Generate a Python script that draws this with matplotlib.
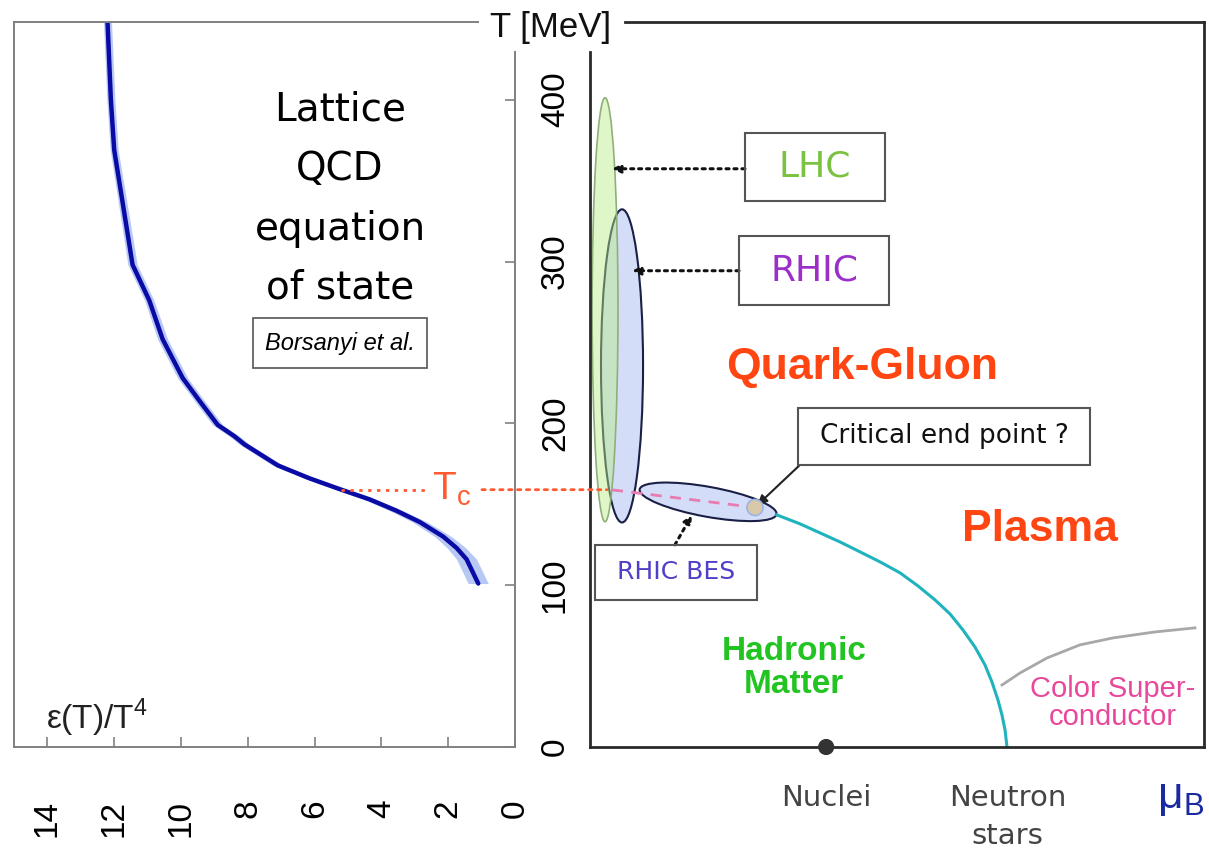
import matplotlib.pyplot as plt
from matplotlib.patches import Ellipse, Rectangle, Circle, ConnectionPatch

plt.rcParams['font.family'] = ['Liberation Sans', 'DejaVu Sans']
COMIC = 'DejaVu Sans'

# lattice QCD equation of state (eps/T^4 vs T in MeV)
eps_T4 = [12.2, 12.1, 12.0, 11.45, 10.95, 10.55, 9.95, 9.45, 8.9, 8.4, 8.1,
          7.1, 6.15, 5.2, 4.35, 3.55, 2.85, 2.15, 1.75, 1.45, 1.1]
eps_err = [0.12, 0.12, 0.12, 0.14, 0.14, 0.15, 0.15, 0.15, 0.15, 0.15, 0.15,
           0.15, 0.15, 0.16, 0.18, 0.2, 0.22, 0.25, 0.28, 0.3, 0.3]
T_lat = [448, 400, 369, 298, 276, 252, 228, 214, 199, 192, 187,
         174, 166, 159, 153, 146, 139, 130, 123, 116, 101]

eps_ticks = [14, 12, 10, 8, 6, 4, 2, 0]
T_ticks = [0, 100, 200, 300, 400]
T_c = 159

# phase diagram, mu_B in arbitrary units (same scale as T)
cross_mu = [115.6, 129.8, 142.2, 154.6, 166.9, 179.3, 191.7, 202.8, 213.3,
            222.6, 230.6, 238.0, 244.2, 248.5, 252.2, 254.7, 256.6, 257.8]
cross_T = [143.4, 137.9, 132.3, 126.7, 120.6, 114.4, 107.6, 99.5, 90.9,
           82.2, 72.3, 61.8, 50.7, 40.2, 29.1, 19.8, 10.5, 0.0]
csc_mu = [254.7, 265.8, 282.5, 302.9, 323.3, 349.3, 374.0]
csc_T = [38.3, 45.7, 55.0, 63.1, 67.4, 71.1, 73.6]
cep_mu, cep_T = 102, 148
nuclei_mu = 146
neutron_mu = 258

fig = plt.figure(figsize=(12.09, 8.55), dpi=100)
ax1 = fig.add_axes([14 / 1209, 108 / 855, 501 / 1209, 725 / 855])
ax2 = fig.add_axes([590 / 1209, 108 / 855, 614 / 1209, 725 / 855])

# ---- left panel: energy density ----
ax1.set_xlim(15, 0)
ax1.set_ylim(0, 448)
ax1.fill_betweenx(T_lat, [e - d for e, d in zip(eps_T4, eps_err)],
                  [e + d for e, d in zip(eps_T4, eps_err)], color='#b8c8f5', lw=0)
ax1.plot(eps_T4, T_lat, color='#0a0aa5', lw=3.2, solid_capstyle='round',
         solid_joinstyle='round')

for s in ax1.spines.values():
    s.set_color('#808080')
    s.set_linewidth(1.4)
ax1.spines['top'].set_bounds(15, 1.11)
ax1.spines['right'].set_bounds(0, 429.7)
ax1.yaxis.tick_right()
ax1.set_yticks(T_ticks)
ax1.set_xticks(eps_ticks)
ax1.tick_params(axis='y', direction='in', length=7, width=1.2, color='#808080',
                pad=18, labelsize=24, labelrotation=90)
ax1.tick_params(axis='x', direction='in', length=7, width=1.2, color='#808080',
                pad=38, labelsize=24, labelrotation=90)
for lbl in ax1.get_yticklabels():
    lbl.set_va('center')

title_lines = ['Lattice', 'QCD', 'equation', 'of state']
title_T = [394, 357, 320, 284]
for line, ty in zip(title_lines, title_T):
    ax1.text(5.24, ty, line, family=COMIC, fontsize=28, ha='center', va='center')
ax1.add_patch(Rectangle((7.84, 234.3), 2.63 - 7.84, 31, fill=False,
                        ec='#555555', lw=1.2))
ax1.text(5.24, 249.5, 'Borsanyi et al.', fontsize=17, style='italic',
         ha='center', va='center')
ax1.text(14.05, 18, r'ε(T)/T$^\mathregular{4}$', fontsize=24, ha='left',
         va='center', color='#222222')

# Tc line
ax1.plot([5.2, 2.63], [T_c, T_c], color='#ff5a30', lw=2, ls=(0, (1.2, 2)))
ax1.text(1.9, T_c, r'T$_\mathregular{c}$', color='#ff5a30', fontsize=28,
         ha='center', va='center')
con = ConnectionPatch(xyA=(0.99, T_c), coordsA=ax1.transData,
                      xyB=(10.5, T_c), coordsB=ax2.transData,
                      color='#ff5a30', lw=2, ls=(0, (1.2, 2)))
fig.add_artist(con)

# ---- right panel: phase diagram ----
ax2.set_xlim(0, 379.6)
ax2.set_ylim(0, 448)
ax2.set_xticks([])
ax2.set_yticks([])
for s in ax2.spines.values():
    s.set_color('#2a2a2a')
    s.set_linewidth(2)
ax2.spines['top'].set_bounds(21.6, 379.6)
ax2.spines['left'].set_bounds(0, 429.7)

ax2.add_patch(Ellipse((19.8, 235.5), 26, 193.5, fc='#d3ddf8', ec='#1a1f45', lw=1.5))
ax2.add_patch(Ellipse((9.3, 270.2), 16, 262, fc=(0.72, 0.93, 0.52, 0.45),
                      ec='#8fb07a', lw=1.2))
ax2.add_patch(Ellipse((73, 151.5), 86, 18.5, angle=-10.3, fc='#d3ddf8',
                      ec='#1a1f45', lw=1.5))
ax2.plot([13.6, cep_mu], [158.9, cep_T], color='#e87bb0', lw=2, ls=(0, (4, 3)))
ax2.plot(cross_mu, cross_T, color='#1fb3be', lw=2.2, solid_joinstyle='round')
ax2.plot(csc_mu, csc_T, color='#a8a8a8', lw=2, solid_joinstyle='round')
ax2.add_patch(Circle((cep_mu, cep_T), 5, fc='#d9c9a8', ec='#9ab4e8', lw=1.2, zorder=4))
ax2.add_patch(Circle((nuclei_mu, 0), 5, fc='#333333', ec='none', zorder=5, clip_on=False))

# label boxes
boxes = [((95.8, 337.6), 86.6, 42, 'LHC', '#7cc242', 26),
         ((92.1, 273.3), 92.8, 42.6, 'RHIC', '#9b30c8', 26),
         ((3.1, 90.9), 100.1, 34, 'RHIC BES', '#5040c8', 18),
         ((128.6, 174.3), 180.5, 35.3, 'Critical end point ?', '#111111', 19)]
for (bx, by), bw, bh, txt, col, fs in boxes:
    ax2.add_patch(Rectangle((bx, by), bw, bh, fill=False, ec='#555555', lw=1.5, zorder=5))
    ax2.text(bx + bw / 2, by + bh / 2, txt, color=col, family=COMIC, fontsize=fs,
             ha='center', va='center', zorder=6)

dotted = dict(arrowstyle='-|>', ls=(0, (1, 1.6)), lw=2.2, color='#111111',
              mutation_scale=12, shrinkA=0, shrinkB=0)
ax2.annotate('', xy=(13.6, 357.3), xytext=(95.8, 357.3), arrowprops=dotted)
ax2.annotate('', xy=(26, 294.3), xytext=(92.1, 294.3), arrowprops=dotted)
ax2.annotate('', xy=(63, 143.4), xytext=(52.5, 124.9), arrowprops=dotted)
ax2.annotate('', xy=(103.5, 149.5), xytext=(129.8, 174.3),
             arrowprops=dict(arrowstyle='-|>', lw=1.5, color='#222222',
                             mutation_scale=14, shrinkA=0, shrinkB=0))

ax2.text(168.2, 234.3, 'Quark-Gluon', color='#ff4512', fontsize=32,
         fontweight='bold', ha='center', va='center')
ax2.text(278.2, 134.2, 'Plasma', color='#ff4512', fontsize=32,
         fontweight='bold', ha='center', va='center')
ax2.text(126.1, 48.8, 'Hadronic\nMatter', color='#22c422', fontsize=24,
         fontweight='bold', ha='center', va='center', linespacing=1.05)
ax2.text(323.3, 26.9, 'Color Super-\nconductor', color='#e8489a', fontsize=21,
         ha='center', va='center', linespacing=1.0)
ax2.text(nuclei_mu, -31.5, 'Nuclei', color='#444444', family=COMIC, fontsize=21,
         ha='center', va='center', clip_on=False)
ax2.text(neutron_mu, -43, 'Neutron\nstars', color='#444444', family=COMIC,
         fontsize=21, ha='center', va='center', linespacing=1.45, clip_on=False)

fig.text(551 / 1209, (855 - 37) / 855, 'T [MeV]', fontsize=25, ha='center',
         va='baseline', color='#111111')
fig.text(1181 / 1209, (855 - 797) / 855, r'$\mathregular{\mu_B}$', fontsize=32,
         ha='center', va='center', color='#1a2aa0')

fig.savefig('out.png', dpi=100)
